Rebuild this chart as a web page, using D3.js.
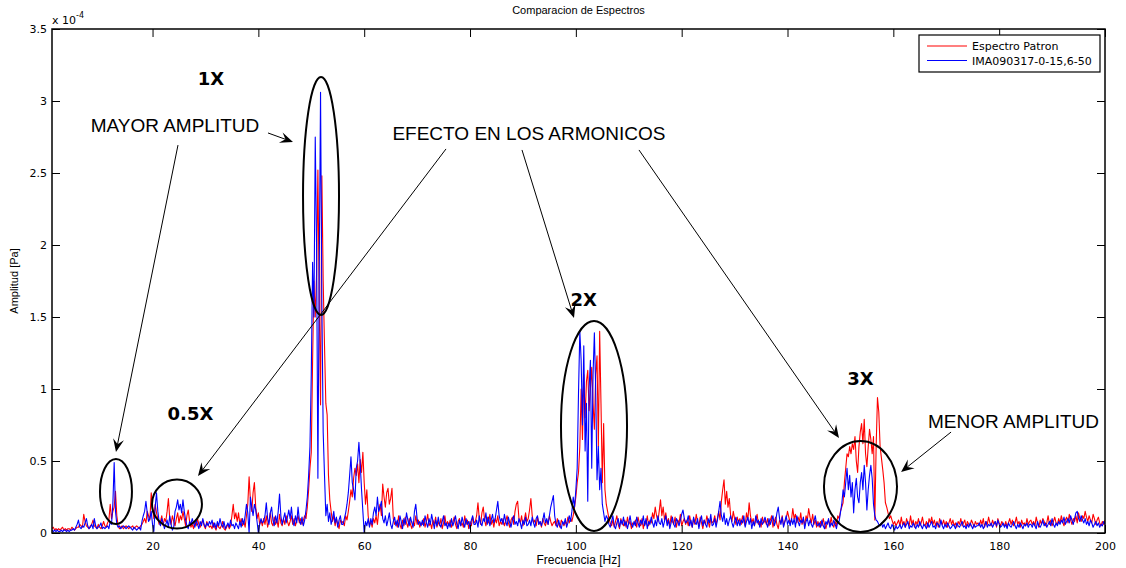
<!DOCTYPE html>
<html>
<head>
<meta charset="utf-8">
<script src="https://cdn.jsdelivr.net/npm/d3@7/dist/d3.min.js"></script>
<style>
	body { margin: 0; background: #fff; }
	svg { display: block; }
</style>
</head>
<body>
<svg id="chart" width="1126" height="568"></svg>
<script>
/* ----------------------------------------
 * Spectrum comparison (MATLAB style figure) drawn with D3.
 * Amplitudes are stored in 1e-6 Pa, one sample every 0.25 Hz from 1 Hz,
 * each row of the arrays below covers 5 Hz.
 * ---------------------------------------- */

const freqStart = 1;
const freqStep = 0.25;

// Espectro Patron (red)
const patron = [
	3,4,2,3,2,3,2,3,4,2,3,2,3,3,2,4,3,2,3,4,
	4,6,5,4,13,8,5,4,3,5,6,9,5,4,3,6,4,3,5,8,
	5,4,7,9,20,10,15,18,29,12,5,3,4,5,3,4,5,4,3,4,
	4,5,3,4,5,4,3,5,6,8,10,7,15,12,9,28,18,10,20,14,
	10,6,8,12,5,10,8,15,24,10,6,12,8,5,10,14,7,12,9,15,
	10,5,12,16,8,4,6,3,8,5,10,6,4,7,9,5,3,8,6,4,
	5,3,7,4,2,6,4,3,5,8,3,2,4,6,3,5,12,20,10,14,
	8,14,6,10,5,8,4,12,20,39,22,15,28,35,18,10,14,6,9,5,
	10,6,12,4,8,14,7,5,11,6,9,4,13,7,5,10,6,12,8,5,
	8,12,6,10,5,9,12,7,10,6,9,12,10,18,30,45,56,120,175,150,
	180,252,160,89,248,175,130,90,82,40,23,15,8,12,5,10,6,3,9,7,
	8,5,12,9,15,22,30,25,38,45,40,48,35,51,42,56,35,20,30,12,
	5,8,4,10,7,12,6,15,20,12,34,25,18,28,31,20,24,31,10,6,
	8,4,12,6,3,9,5,11,7,4,10,6,3,8,5,12,6,9,4,7,
	6,10,4,8,13,5,7,3,9,6,11,4,8,5,10,3,7,12,5,8,
	5,9,4,7,11,6,3,8,10,5,7,4,12,6,9,3,8,5,11,7,
	8,12,21,10,6,14,18,9,5,11,7,13,6,9,4,10,7,12,5,8,
	6,10,5,8,12,7,4,9,11,6,15,20,22,10,7,12,5,9,14,8,
	10,16,24,12,7,9,5,11,6,8,4,10,7,5,9,6,12,8,5,7,
	8,5,10,6,4,9,7,5,8,6,11,7,10,8,12,18,25,35,42,60,
	100,65,110,80,105,113,85,100,115,90,72,110,123,60,140,90,35,76,30,20,
	15,10,7,5,9,4,8,12,6,3,10,7,5,9,4,11,6,8,3,7,
	6,9,4,11,7,5,10,3,8,6,12,5,9,7,14,10,18,12,8,15,
	23,12,18,9,14,7,10,5,12,8,6,11,4,9,7,13,5,8,10,6,
	9,5,12,7,4,10,6,13,8,5,11,7,3,9,6,12,8,4,10,7,
	8,12,6,10,15,9,22,30,37,20,29,18,24,12,8,15,10,6,11,7,
	10,6,12,8,5,14,9,21,12,7,10,5,9,13,6,8,4,11,7,9,
	6,10,5,9,12,4,8,11,6,3,9,7,12,5,8,10,15,11,7,9,
	17,10,13,7,11,8,14,6,10,5,12,9,17,11,7,13,6,9,4,8,
	4,8,5,10,6,3,7,9,5,11,6,4,8,5,12,10,15,18,21,35,
	45,55,53,60,55,62,58,67,50,42,60,70,76,62,79,55,46,60,72,65,
	55,67,9,60,94,84,60,52,44,35,21,18,14,10,12,9,6,8,5,7,
	9,5,11,6,8,4,10,7,5,12,6,9,4,8,6,10,5,7,11,6,
	5,8,4,10,7,11,6,9,5,8,4,10,7,6,9,5,8,4,7,10,
	6,9,5,7,4,8,6,10,5,7,9,4,8,6,5,9,7,4,8,6,
	7,5,9,6,10,4,8,6,11,7,5,9,6,8,4,10,7,5,8,6,
	5,8,4,7,10,6,9,5,7,11,6,8,4,9,6,7,5,10,6,8,
	9,6,8,5,11,7,4,9,6,10,8,5,7,12,6,9,5,8,11,7,
	6,10,7,12,8,5,9,11,7,13,9,6,10,8,12,7,14,10,8,12,
	10,15,11,8,12,9,7,13,10,6,9,11,7,5,8,6,9
];

// IMA090317-0-15,6-50 (blue)
const ima = [
	2,1,2,1,2,1,1,2,1,2,2,1,2,1,2,2,3,2,4,6,
	9,4,3,5,4,7,10,5,3,4,6,3,10,5,3,4,5,7,3,4,
	3,4,5,3,8,6,20,49,15,6,4,5,3,4,5,4,3,4,5,4,
	3,2,4,3,2,3,4,2,8,12,15,22,14,8,10,15,6,1,18,28,
	15,8,5,10,7,3,6,9,4,12,6,2,4,15,18,23,16,20,14,23,
	15,9,5,3,8,6,10,7,4,9,6,3,8,5,10,6,4,7,5,8,
	6,9,4,7,3,8,5,10,6,4,8,3,5,7,4,9,5,6,3,7,
	5,3,8,4,10,6,12,20,14,0,25,18,12,20,16,8,0,6,10,7,
	8,12,21,10,6,14,18,9,5,12,7,15,27,12,6,10,14,7,11,16,
	10,18,8,5,12,7,18,9,6,11,5,9,16,25,40,60,110,188,150,275,
	200,38,180,306,160,70,40,12,20,8,14,6,10,15,7,11,4,9,12,6,
	6,10,14,20,28,40,53,35,30,23,45,50,63,48,30,15,0,8,5,10,
	4,10,6,14,18,12,25,15,18,22,10,7,12,5,9,14,6,3,8,11,
	5,9,4,12,8,3,10,6,14,9,5,11,7,4,15,20,10,6,8,5,
	9,5,12,7,4,10,6,13,8,3,9,5,11,6,4,8,12,5,7,3,
	7,4,10,5,8,12,6,3,9,5,11,7,4,10,6,8,3,9,12,6,
	6,9,4,12,7,5,10,8,14,6,11,5,9,13,7,10,16,22,12,8,
	10,6,13,8,5,11,7,4,9,12,6,8,5,10,7,3,9,6,11,5,
	6,9,5,11,7,4,10,12,6,8,5,9,14,7,10,6,12,18,22,26,
	12,6,4,9,5,3,8,6,10,4,7,12,8,15,25,18,30,45,97,140,
	120,75,130,57,90,22,100,120,45,110,139,100,37,60,30,45,20,14,8,12,
	10,6,4,8,12,5,3,7,10,4,9,6,11,5,8,3,7,12,6,4,
	8,5,11,7,4,9,6,12,5,10,3,8,6,11,7,4,9,5,12,7,
	6,10,4,8,12,5,9,3,7,11,6,4,10,8,5,9,13,16,10,7,
	8,12,5,9,4,11,7,6,10,3,8,12,5,9,6,4,10,7,13,5,
	6,10,4,9,15,22,12,8,14,6,10,5,9,12,7,4,8,11,5,9,
	5,9,7,12,4,8,11,6,10,3,8,5,12,7,9,4,10,6,8,11,
	7,4,10,6,9,12,5,8,14,18,10,6,11,4,8,12,6,9,5,10,
	6,10,4,12,8,5,9,7,11,3,8,10,5,9,6,4,8,12,6,5,
	7,4,9,5,3,8,6,10,4,7,5,9,6,3,8,8,14,20,30,25,
	35,45,30,40,25,35,14,30,38,25,21,35,42,30,47,35,16,30,40,47,
	38,20,12,9,8,6,5,7,4,6,3,5,7,4,3,6,4,2,5,3,
	4,6,3,5,7,4,6,8,3,5,4,7,5,3,6,4,8,5,3,6,
	5,3,7,4,6,8,4,5,3,7,6,4,9,5,3,6,4,7,5,3,
	4,6,5,3,7,5,4,6,8,4,5,3,6,4,7,5,3,6,4,5,
	5,7,4,6,3,5,8,4,6,5,7,4,6,8,5,9,6,4,5,7,
	4,6,3,7,5,4,6,8,5,3,6,4,7,5,3,6,5,7,4,6,
	6,4,7,5,3,8,5,4,6,9,5,7,4,6,8,5,10,6,4,7,
	5,8,6,9,7,11,6,8,10,7,12,9,6,10,14,15,10,8,12,9,
	7,10,6,8,5,9,7,4,6,8,5,7,4,6,5,8,6
];

const seriesNames = ['Espectro Patron', 'IMA090317-0-15,6-50'];
const xTicks = [20, 40, 60, 80, 100, 120, 140, 160, 180, 200];
const yTicks = [0, 0.5, 1, 1.5, 2, 2.5, 3, 3.5];

// annotations, in data units: frequency [Hz], amplitude [x 1e-4 Pa]
const harmonicLabels = [
	{ text: '1X', f: 31.05, a: 3.11 },
	{ text: '0.5X', f: 27.17, a: 0.785 },
	{ text: '2X', f: 101.5, a: 1.576 },
	{ text: '3X', f: 153.8, a: 1.028 },
];
const noteLabels = [
	{ text: 'MAYOR AMPLITUD', f: 24.24, a: 2.785 },
	{ text: 'EFECTO EN LOS ARMONICOS', f: 91.14, a: 2.729 },
	{ text: 'MENOR AMPLITUD', f: 182.7, a: 0.729 },
];
const ellipses = [
	{ f: 51.84, a: 2.34, rf: 3.4, ra: 0.826 },
	{ f: 13.09, a: 0.288, rf: 3.02, ra: 0.226 },
	{ f: 24.62, a: 0.201, rf: 4.72, ra: 0.17 },
	{ f: 103.43, a: 0.743, rf: 6.24, ra: 0.729 },
	{ f: 153.79, a: 0.323, rf: 6.9, ra: 0.316 },
];
const arrows = [
	{ f0: 24.81, a0: 2.694, f1: 13.09, a1: 0.5625 },
	{ f0: 41.82, a0: 2.778, f1: 46.54, a1: 2.715 },
	{ f0: 75.46, a0: 2.667, f1: 28.59, a1: 0.396 },
	{ f0: 89.82, a0: 2.66, f1: 99.65, a1: 1.493 },
	{ f0: 111.93, a0: 2.66, f1: 149.73, a1: 0.66 },
	{ f0: 170.91, a0: 0.701, f1: 161.46, a1: 0.424 },
];

// layout / style
const cfg = {
	left: 52, right: 1105, top: 29, bottom: 533,
	tickSize: 8,
	colors: ['#ff0000', '#0000ff'],
	smallFont: '"DejaVu Sans", sans-serif',
	textFont: '"Liberation Sans", Arial, sans-serif',
};

const svg = d3.select('#chart');

const x = d3.scaleLinear().domain([1, 200]).range([cfg.left, cfg.right]);
const y = d3.scaleLinear().domain([0, 3.5]).range([cfg.bottom, cfg.top]);

const toSeries = (arr) => arr.map((v, i) => ({ f: freqStart + i * freqStep, a: v / 100 }));

// clip for the traces
svg.append('defs').append('clipPath').attr('id', 'plotClip')
	.append('rect')
	.attr('x', cfg.left).attr('y', cfg.top)
	.attr('width', cfg.right - cfg.left).attr('height', cfg.bottom - cfg.top);

// traces: patron first so the blue one sits on top
const line = d3.line().x((d) => x(d.f)).y((d) => y(d.a));
[patron, ima].forEach((arr, i) => {
	svg.append('path')
		.datum(toSeries(arr))
		.attr('clip-path', 'url(#plotClip)')
		.attr('fill', 'none')
		.attr('stroke', cfg.colors[i])
		.attr('stroke-width', 1.1)
		.attr('stroke-linejoin', 'round')
		.attr('d', line);
});

// axes, MATLAB style: ticks inside, mirrored on top/right
const styleAxis = (g) => {
	g.select('.domain').remove();
	g.selectAll('.tick line').attr('stroke', '#000').attr('stroke-width', 1);
	g.selectAll('.tick text')
		.attr('fill', '#000')
		.style('font-family', cfg.smallFont)
		.style('font-size', '11px');
};

svg.append('g')
	.attr('transform', `translate(0,${cfg.bottom})`)
	.call(d3.axisBottom(x).tickValues(xTicks).tickSizeInner(-cfg.tickSize).tickSizeOuter(0).tickPadding(9))
	.call(styleAxis);
svg.append('g')
	.attr('transform', `translate(0,${cfg.top})`)
	.call(d3.axisTop(x).tickValues(xTicks).tickSizeInner(-cfg.tickSize).tickSizeOuter(0).tickFormat(''))
	.call(styleAxis);
svg.append('g')
	.attr('transform', `translate(${cfg.left},0)`)
	.call(d3.axisLeft(y).tickValues(yTicks).tickSizeInner(-cfg.tickSize).tickSizeOuter(0).tickPadding(5)
		.tickFormat((d) => String(d)))
	.call(styleAxis);
svg.append('g')
	.attr('transform', `translate(${cfg.right},0)`)
	.call(d3.axisRight(y).tickValues(yTicks).tickSizeInner(-cfg.tickSize).tickSizeOuter(0).tickFormat(''))
	.call(styleAxis);

// box
svg.append('rect')
	.attr('x', cfg.left).attr('y', cfg.top)
	.attr('width', cfg.right - cfg.left).attr('height', cfg.bottom - cfg.top)
	.attr('fill', 'none').attr('stroke', '#000').attr('stroke-width', 1.5);

// exponent label
const expo = svg.append('text')
	.attr('x', cfg.left).attr('y', 24)
	.style('font-family', cfg.smallFont).style('font-size', '11px');
expo.append('tspan').text('x 10');
expo.append('tspan').attr('dy', -6).style('font-size', '8px').text('-4');

// title and axis labels
svg.append('text')
	.attr('x', (cfg.left + cfg.right) / 2).attr('y', 14)
	.attr('text-anchor', 'middle')
	.style('font-family', cfg.textFont).style('font-size', '11px')
	.text('Comparacion de Espectros');
svg.append('text')
	.attr('x', (cfg.left + cfg.right) / 2).attr('y', 564)
	.attr('text-anchor', 'middle')
	.style('font-family', cfg.textFont).style('font-size', '12px')
	.text('Frecuencia [Hz]');
svg.append('text')
	.attr('transform', `translate(18,${(cfg.top + cfg.bottom) / 2}) rotate(-90)`)
	.attr('text-anchor', 'middle')
	.style('font-family', cfg.textFont).style('font-size', '11px')
	.text('Amplitud [Pa]');

// legend
const legend = svg.append('g').attr('transform', 'translate(919,35)');
legend.append('rect')
	.attr('width', 181).attr('height', 37)
	.attr('fill', '#fff').attr('stroke', '#000').attr('stroke-width', 1.2);
seriesNames.forEach((name, i) => {
	const ly = 11 + i * 14.5;
	legend.append('line')
		.attr('x1', 8).attr('x2', 48).attr('y1', ly).attr('y2', ly)
		.attr('stroke', cfg.colors[i]).attr('stroke-width', 1.1);
	legend.append('text')
		.attr('x', 53).attr('y', ly + 4)
		.style('font-family', cfg.smallFont).style('font-size', '11px')
		.text(name);
});

// annotations
const notes = svg.append('g');
ellipses.forEach((e) => {
	notes.append('ellipse')
		.attr('cx', x(e.f)).attr('cy', y(e.a))
		.attr('rx', x(e.f + e.rf) - x(e.f))
		.attr('ry', y(0) - y(e.ra))
		.attr('fill', 'none').attr('stroke', '#000').attr('stroke-width', 2);
});

arrows.forEach((a) => {
	const x0 = x(a.f0), y0 = y(a.a0), x1 = x(a.f1), y1 = y(a.a1);
	const ang = Math.atan2(y1 - y0, x1 - x0);
	const len = 13, half = 5.5, notch = 8;
	const pt = (d, s) => [x1 - d * Math.cos(ang) - s * Math.sin(ang), y1 - d * Math.sin(ang) + s * Math.cos(ang)];
	notes.append('line')
		.attr('x1', x0).attr('y1', y0)
		.attr('x2', pt(notch, 0)[0]).attr('y2', pt(notch, 0)[1])
		.attr('stroke', '#000').attr('stroke-width', 1);
	notes.append('path')
		.attr('d', `M${[x1, y1]}L${pt(len, half)}L${pt(notch, 0)}L${pt(len, -half)}Z`)
		.attr('fill', '#000');
});

harmonicLabels.forEach((l) => {
	notes.append('text')
		.attr('x', x(l.f)).attr('y', y(l.a))
		.attr('text-anchor', 'middle')
		.style('font-family', '"DejaVu Sans", sans-serif')
		.style('font-weight', 'bold')
		.style('font-size', '18px')
		.text(l.text);
});
noteLabels.forEach((l) => {
	notes.append('text')
		.attr('x', x(l.f)).attr('y', y(l.a))
		.attr('text-anchor', 'middle')
		.style('font-family', cfg.textFont)
		.style('font-size', '19px')
		.text(l.text);
});
</script>
</body>
</html>
